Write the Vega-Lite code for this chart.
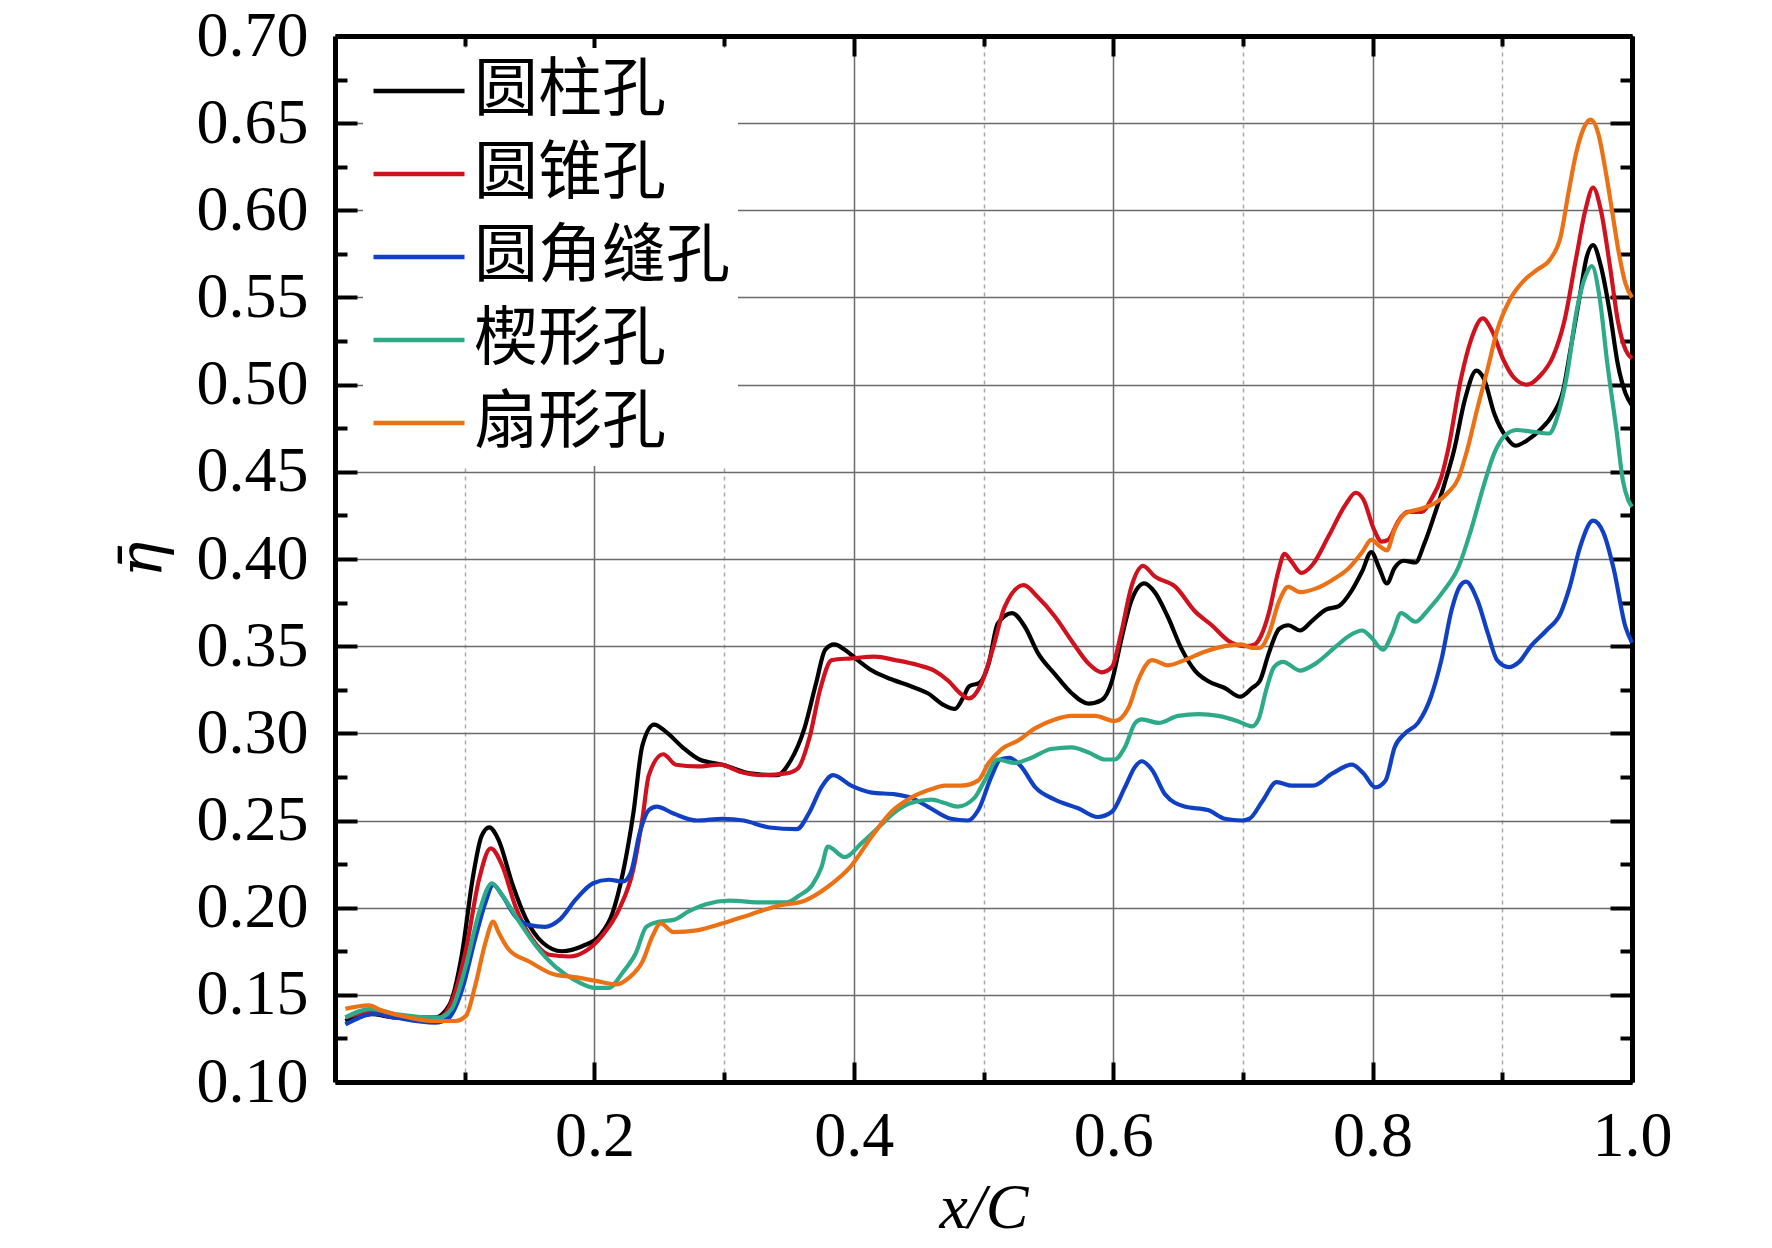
{
  "$schema": "https://vega.github.io/schema/vega-lite/v6.json",
  "width": 1297,
  "height": 1046,
  "autosize": {"type": "none"},
  "padding": {"left": 335, "top": 36, "right": 140, "bottom": 166},
  "background": "white",
  "config": {"view": {"stroke": null}, "font": "Liberation Serif"},
  "datasets": {
    "curves": [
      {"hole": "圆柱孔", "x": 0.008, "eta": 0.135}, {"hole": "圆柱孔", "x": 0.028, "eta": 0.139}, {"hole": "圆柱孔", "x": 0.046, "eta": 0.137}, {"hole": "圆柱孔", "x": 0.077, "eta": 0.137},
      {"hole": "圆柱孔", "x": 0.088, "eta": 0.144}, {"hole": "圆柱孔", "x": 0.098, "eta": 0.174}, {"hole": "圆柱孔", "x": 0.106, "eta": 0.216}, {"hole": "圆柱孔", "x": 0.113, "eta": 0.241},
      {"hole": "圆柱孔", "x": 0.119, "eta": 0.246}, {"hole": "圆柱孔", "x": 0.126, "eta": 0.239}, {"hole": "圆柱孔", "x": 0.137, "eta": 0.213}, {"hole": "圆柱孔", "x": 0.147, "eta": 0.194},
      {"hole": "圆柱孔", "x": 0.160, "eta": 0.180}, {"hole": "圆柱孔", "x": 0.175, "eta": 0.175}, {"hole": "圆柱孔", "x": 0.191, "eta": 0.178}, {"hole": "圆柱孔", "x": 0.204, "eta": 0.184},
      {"hole": "圆柱孔", "x": 0.214, "eta": 0.197}, {"hole": "圆柱孔", "x": 0.222, "eta": 0.220}, {"hole": "圆柱孔", "x": 0.230, "eta": 0.254}, {"hole": "圆柱孔", "x": 0.237, "eta": 0.293},
      {"hole": "圆柱孔", "x": 0.246, "eta": 0.305}, {"hole": "圆柱孔", "x": 0.255, "eta": 0.301}, {"hole": "圆柱孔", "x": 0.268, "eta": 0.292}, {"hole": "圆柱孔", "x": 0.281, "eta": 0.285},
      {"hole": "圆柱孔", "x": 0.299, "eta": 0.282}, {"hole": "圆柱孔", "x": 0.320, "eta": 0.277}, {"hole": "圆柱孔", "x": 0.341, "eta": 0.276}, {"hole": "圆柱孔", "x": 0.351, "eta": 0.284},
      {"hole": "圆柱孔", "x": 0.362, "eta": 0.303}, {"hole": "圆柱孔", "x": 0.371, "eta": 0.329}, {"hole": "圆柱孔", "x": 0.378, "eta": 0.348}, {"hole": "圆柱孔", "x": 0.385, "eta": 0.351},
      {"hole": "圆柱孔", "x": 0.393, "eta": 0.348}, {"hole": "圆柱孔", "x": 0.403, "eta": 0.342}, {"hole": "圆柱孔", "x": 0.414, "eta": 0.336}, {"hole": "圆柱孔", "x": 0.429, "eta": 0.331},
      {"hole": "圆柱孔", "x": 0.444, "eta": 0.327}, {"hole": "圆柱孔", "x": 0.457, "eta": 0.323}, {"hole": "圆柱孔", "x": 0.470, "eta": 0.316}, {"hole": "圆柱孔", "x": 0.478, "eta": 0.314},
      {"hole": "圆柱孔", "x": 0.484, "eta": 0.320}, {"hole": "圆柱孔", "x": 0.489, "eta": 0.327}, {"hole": "圆柱孔", "x": 0.497, "eta": 0.329}, {"hole": "圆柱孔", "x": 0.504, "eta": 0.340},
      {"hole": "圆柱孔", "x": 0.511, "eta": 0.363}, {"hole": "圆柱孔", "x": 0.522, "eta": 0.369}, {"hole": "圆柱孔", "x": 0.532, "eta": 0.361}, {"hole": "圆柱孔", "x": 0.542, "eta": 0.346},
      {"hole": "圆柱孔", "x": 0.555, "eta": 0.334}, {"hole": "圆柱孔", "x": 0.568, "eta": 0.323}, {"hole": "圆柱孔", "x": 0.581, "eta": 0.317}, {"hole": "圆柱孔", "x": 0.591, "eta": 0.319},
      {"hole": "圆柱孔", "x": 0.599, "eta": 0.330}, {"hole": "圆柱孔", "x": 0.606, "eta": 0.353}, {"hole": "圆柱孔", "x": 0.614, "eta": 0.376}, {"hole": "圆柱孔", "x": 0.624, "eta": 0.386},
      {"hole": "圆柱孔", "x": 0.632, "eta": 0.381}, {"hole": "圆柱孔", "x": 0.642, "eta": 0.367}, {"hole": "圆柱孔", "x": 0.653, "eta": 0.348}, {"hole": "圆柱孔", "x": 0.663, "eta": 0.336},
      {"hole": "圆柱孔", "x": 0.673, "eta": 0.330}, {"hole": "圆柱孔", "x": 0.686, "eta": 0.326}, {"hole": "圆柱孔", "x": 0.698, "eta": 0.321}, {"hole": "圆柱孔", "x": 0.707, "eta": 0.326},
      {"hole": "圆柱孔", "x": 0.713, "eta": 0.330}, {"hole": "圆柱孔", "x": 0.720, "eta": 0.346}, {"hole": "圆柱孔", "x": 0.728, "eta": 0.360}, {"hole": "圆柱孔", "x": 0.735, "eta": 0.362},
      {"hole": "圆柱孔", "x": 0.744, "eta": 0.359}, {"hole": "圆柱孔", "x": 0.754, "eta": 0.365}, {"hole": "圆柱孔", "x": 0.764, "eta": 0.371}, {"hole": "圆柱孔", "x": 0.774, "eta": 0.373},
      {"hole": "圆柱孔", "x": 0.784, "eta": 0.382}, {"hole": "圆柱孔", "x": 0.792, "eta": 0.393}, {"hole": "圆柱孔", "x": 0.799, "eta": 0.404}, {"hole": "圆柱孔", "x": 0.805, "eta": 0.395},
      {"hole": "圆柱孔", "x": 0.811, "eta": 0.386}, {"hole": "圆柱孔", "x": 0.817, "eta": 0.395}, {"hole": "圆柱孔", "x": 0.824, "eta": 0.399}, {"hole": "圆柱孔", "x": 0.833, "eta": 0.398},
      {"hole": "圆柱孔", "x": 0.840, "eta": 0.409}, {"hole": "圆柱孔", "x": 0.848, "eta": 0.426}, {"hole": "圆柱孔", "x": 0.855, "eta": 0.442}, {"hole": "圆柱孔", "x": 0.863, "eta": 0.463},
      {"hole": "圆柱孔", "x": 0.871, "eta": 0.491}, {"hole": "圆柱孔", "x": 0.880, "eta": 0.508}, {"hole": "圆柱孔", "x": 0.886, "eta": 0.503}, {"hole": "圆柱孔", "x": 0.894, "eta": 0.483},
      {"hole": "圆柱孔", "x": 0.903, "eta": 0.470}, {"hole": "圆柱孔", "x": 0.910, "eta": 0.465}, {"hole": "圆柱孔", "x": 0.919, "eta": 0.468}, {"hole": "圆柱孔", "x": 0.929, "eta": 0.474},
      {"hole": "圆柱孔", "x": 0.939, "eta": 0.483}, {"hole": "圆柱孔", "x": 0.947, "eta": 0.497}, {"hole": "圆柱孔", "x": 0.953, "eta": 0.522}, {"hole": "圆柱孔", "x": 0.960, "eta": 0.552},
      {"hole": "圆柱孔", "x": 0.965, "eta": 0.573}, {"hole": "圆柱孔", "x": 0.970, "eta": 0.580}, {"hole": "圆柱孔", "x": 0.976, "eta": 0.568}, {"hole": "圆柱孔", "x": 0.983, "eta": 0.541},
      {"hole": "圆柱孔", "x": 0.989, "eta": 0.512}, {"hole": "圆柱孔", "x": 0.995, "eta": 0.495}, {"hole": "圆柱孔", "x": 1.0, "eta": 0.488},

      {"hole": "圆锥孔", "x": 0.008, "eta": 0.137}, {"hole": "圆锥孔", "x": 0.028, "eta": 0.140}, {"hole": "圆锥孔", "x": 0.046, "eta": 0.137}, {"hole": "圆锥孔", "x": 0.080, "eta": 0.137},
      {"hole": "圆锥孔", "x": 0.090, "eta": 0.146}, {"hole": "圆锥孔", "x": 0.101, "eta": 0.176}, {"hole": "圆锥孔", "x": 0.111, "eta": 0.216}, {"hole": "圆锥孔", "x": 0.120, "eta": 0.234},
      {"hole": "圆锥孔", "x": 0.129, "eta": 0.224}, {"hole": "圆锥孔", "x": 0.139, "eta": 0.201}, {"hole": "圆锥孔", "x": 0.152, "eta": 0.182}, {"hole": "圆锥孔", "x": 0.165, "eta": 0.173},
      {"hole": "圆锥孔", "x": 0.181, "eta": 0.172}, {"hole": "圆锥孔", "x": 0.193, "eta": 0.175}, {"hole": "圆锥孔", "x": 0.206, "eta": 0.184}, {"hole": "圆锥孔", "x": 0.219, "eta": 0.199},
      {"hole": "圆锥孔", "x": 0.230, "eta": 0.222}, {"hole": "圆锥孔", "x": 0.237, "eta": 0.251}, {"hole": "圆锥孔", "x": 0.242, "eta": 0.276}, {"hole": "圆锥孔", "x": 0.253, "eta": 0.288},
      {"hole": "圆锥孔", "x": 0.263, "eta": 0.282}, {"hole": "圆锥孔", "x": 0.279, "eta": 0.281}, {"hole": "圆锥孔", "x": 0.297, "eta": 0.282}, {"hole": "圆锥孔", "x": 0.312, "eta": 0.278},
      {"hole": "圆锥孔", "x": 0.330, "eta": 0.276}, {"hole": "圆锥孔", "x": 0.348, "eta": 0.277}, {"hole": "圆锥孔", "x": 0.357, "eta": 0.280}, {"hole": "圆锥孔", "x": 0.366, "eta": 0.298},
      {"hole": "圆锥孔", "x": 0.374, "eta": 0.325}, {"hole": "圆锥孔", "x": 0.383, "eta": 0.342}, {"hole": "圆锥孔", "x": 0.398, "eta": 0.343}, {"hole": "圆锥孔", "x": 0.416, "eta": 0.344},
      {"hole": "圆锥孔", "x": 0.432, "eta": 0.342}, {"hole": "圆锥孔", "x": 0.450, "eta": 0.339}, {"hole": "圆锥孔", "x": 0.462, "eta": 0.336}, {"hole": "圆锥孔", "x": 0.473, "eta": 0.330},
      {"hole": "圆锥孔", "x": 0.482, "eta": 0.323}, {"hole": "圆锥孔", "x": 0.489, "eta": 0.320}, {"hole": "圆锥孔", "x": 0.498, "eta": 0.328}, {"hole": "圆锥孔", "x": 0.507, "eta": 0.348},
      {"hole": "圆锥孔", "x": 0.516, "eta": 0.372}, {"hole": "圆锥孔", "x": 0.531, "eta": 0.385}, {"hole": "圆锥孔", "x": 0.542, "eta": 0.378}, {"hole": "圆锥孔", "x": 0.555, "eta": 0.367},
      {"hole": "圆锥孔", "x": 0.568, "eta": 0.353}, {"hole": "圆锥孔", "x": 0.581, "eta": 0.340}, {"hole": "圆锥孔", "x": 0.591, "eta": 0.335}, {"hole": "圆锥孔", "x": 0.599, "eta": 0.338},
      {"hole": "圆锥孔", "x": 0.606, "eta": 0.357}, {"hole": "圆锥孔", "x": 0.614, "eta": 0.384}, {"hole": "圆锥孔", "x": 0.623, "eta": 0.396}, {"hole": "圆锥孔", "x": 0.632, "eta": 0.390},
      {"hole": "圆锥孔", "x": 0.648, "eta": 0.384}, {"hole": "圆锥孔", "x": 0.663, "eta": 0.370}, {"hole": "圆锥孔", "x": 0.676, "eta": 0.362}, {"hole": "圆锥孔", "x": 0.689, "eta": 0.353},
      {"hole": "圆锥孔", "x": 0.702, "eta": 0.350}, {"hole": "圆锥孔", "x": 0.709, "eta": 0.351}, {"hole": "圆锥孔", "x": 0.714, "eta": 0.356}, {"hole": "圆锥孔", "x": 0.720, "eta": 0.369},
      {"hole": "圆锥孔", "x": 0.727, "eta": 0.392}, {"hole": "圆锥孔", "x": 0.732, "eta": 0.403}, {"hole": "圆锥孔", "x": 0.737, "eta": 0.399}, {"hole": "圆锥孔", "x": 0.745, "eta": 0.392},
      {"hole": "圆锥孔", "x": 0.754, "eta": 0.397}, {"hole": "圆锥孔", "x": 0.766, "eta": 0.413}, {"hole": "圆锥孔", "x": 0.779, "eta": 0.431}, {"hole": "圆锥孔", "x": 0.787, "eta": 0.438},
      {"hole": "圆锥孔", "x": 0.793, "eta": 0.434}, {"hole": "圆锥孔", "x": 0.801, "eta": 0.417}, {"hole": "圆锥孔", "x": 0.807, "eta": 0.410}, {"hole": "圆锥孔", "x": 0.812, "eta": 0.411},
      {"hole": "圆锥孔", "x": 0.820, "eta": 0.422}, {"hole": "圆锥孔", "x": 0.827, "eta": 0.427}, {"hole": "圆锥孔", "x": 0.838, "eta": 0.427}, {"hole": "圆锥孔", "x": 0.845, "eta": 0.434},
      {"hole": "圆锥孔", "x": 0.853, "eta": 0.447}, {"hole": "圆锥孔", "x": 0.858, "eta": 0.462}, {"hole": "圆锥孔", "x": 0.868, "eta": 0.503}, {"hole": "圆锥孔", "x": 0.876, "eta": 0.526},
      {"hole": "圆锥孔", "x": 0.885, "eta": 0.538}, {"hole": "圆锥孔", "x": 0.892, "eta": 0.531}, {"hole": "圆锥孔", "x": 0.901, "eta": 0.514}, {"hole": "圆锥孔", "x": 0.909, "eta": 0.504},
      {"hole": "圆锥孔", "x": 0.919, "eta": 0.500}, {"hole": "圆锥孔", "x": 0.929, "eta": 0.505}, {"hole": "圆锥孔", "x": 0.939, "eta": 0.516}, {"hole": "圆锥孔", "x": 0.948, "eta": 0.537},
      {"hole": "圆锥孔", "x": 0.957, "eta": 0.573}, {"hole": "圆锥孔", "x": 0.964, "eta": 0.600}, {"hole": "圆锥孔", "x": 0.970, "eta": 0.613}, {"hole": "圆锥孔", "x": 0.976, "eta": 0.600},
      {"hole": "圆锥孔", "x": 0.983, "eta": 0.568}, {"hole": "圆锥孔", "x": 0.989, "eta": 0.537}, {"hole": "圆锥孔", "x": 0.995, "eta": 0.520}, {"hole": "圆锥孔", "x": 1.0, "eta": 0.515},

      {"hole": "圆角缝孔", "x": 0.008, "eta": 0.133}, {"hole": "圆角缝孔", "x": 0.031, "eta": 0.139}, {"hole": "圆角缝孔", "x": 0.046, "eta": 0.137}, {"hole": "圆角缝孔", "x": 0.077, "eta": 0.134},
      {"hole": "圆角缝孔", "x": 0.088, "eta": 0.137}, {"hole": "圆角缝孔", "x": 0.098, "eta": 0.153}, {"hole": "圆角缝孔", "x": 0.108, "eta": 0.182}, {"hole": "圆角缝孔", "x": 0.116, "eta": 0.203},
      {"hole": "圆角缝孔", "x": 0.122, "eta": 0.213}, {"hole": "圆角缝孔", "x": 0.129, "eta": 0.207}, {"hole": "圆角缝孔", "x": 0.139, "eta": 0.195}, {"hole": "圆角缝孔", "x": 0.150, "eta": 0.190},
      {"hole": "圆角缝孔", "x": 0.162, "eta": 0.189}, {"hole": "圆角缝孔", "x": 0.173, "eta": 0.193}, {"hole": "圆角缝孔", "x": 0.186, "eta": 0.205}, {"hole": "圆角缝孔", "x": 0.199, "eta": 0.214},
      {"hole": "圆角缝孔", "x": 0.211, "eta": 0.216}, {"hole": "圆角缝孔", "x": 0.222, "eta": 0.215}, {"hole": "圆角缝孔", "x": 0.228, "eta": 0.220}, {"hole": "圆角缝孔", "x": 0.235, "eta": 0.243},
      {"hole": "圆角缝孔", "x": 0.242, "eta": 0.256}, {"hole": "圆角缝孔", "x": 0.248, "eta": 0.258}, {"hole": "圆角缝孔", "x": 0.261, "eta": 0.254}, {"hole": "圆角缝孔", "x": 0.279, "eta": 0.250},
      {"hole": "圆角缝孔", "x": 0.299, "eta": 0.251}, {"hole": "圆角缝孔", "x": 0.315, "eta": 0.250}, {"hole": "圆角缝孔", "x": 0.335, "eta": 0.246}, {"hole": "圆角缝孔", "x": 0.356, "eta": 0.245},
      {"hole": "圆角缝孔", "x": 0.366, "eta": 0.255}, {"hole": "圆角缝孔", "x": 0.375, "eta": 0.269}, {"hole": "圆角缝孔", "x": 0.384, "eta": 0.276}, {"hole": "圆角缝孔", "x": 0.398, "eta": 0.270},
      {"hole": "圆角缝孔", "x": 0.414, "eta": 0.266}, {"hole": "圆角缝孔", "x": 0.432, "eta": 0.265}, {"hole": "圆角缝孔", "x": 0.444, "eta": 0.263}, {"hole": "圆角缝孔", "x": 0.457, "eta": 0.258},
      {"hole": "圆角缝孔", "x": 0.475, "eta": 0.251}, {"hole": "圆角缝孔", "x": 0.488, "eta": 0.250}, {"hole": "圆角缝孔", "x": 0.496, "eta": 0.256}, {"hole": "圆角缝孔", "x": 0.506, "eta": 0.275},
      {"hole": "圆角缝孔", "x": 0.513, "eta": 0.285}, {"hole": "圆角缝孔", "x": 0.520, "eta": 0.286}, {"hole": "圆角缝孔", "x": 0.529, "eta": 0.281}, {"hole": "圆角缝孔", "x": 0.540, "eta": 0.269},
      {"hole": "圆角缝孔", "x": 0.555, "eta": 0.262}, {"hole": "圆角缝孔", "x": 0.573, "eta": 0.257}, {"hole": "圆角缝孔", "x": 0.588, "eta": 0.252}, {"hole": "圆角缝孔", "x": 0.599, "eta": 0.255},
      {"hole": "圆角缝孔", "x": 0.609, "eta": 0.269}, {"hole": "圆角缝孔", "x": 0.617, "eta": 0.281}, {"hole": "圆角缝孔", "x": 0.622, "eta": 0.284}, {"hole": "圆角缝孔", "x": 0.630, "eta": 0.279},
      {"hole": "圆角缝孔", "x": 0.640, "eta": 0.265}, {"hole": "圆角缝孔", "x": 0.655, "eta": 0.258}, {"hole": "圆角缝孔", "x": 0.673, "eta": 0.256}, {"hole": "圆角缝孔", "x": 0.686, "eta": 0.251},
      {"hole": "圆角缝孔", "x": 0.699, "eta": 0.250}, {"hole": "圆角缝孔", "x": 0.705, "eta": 0.251}, {"hole": "圆角缝孔", "x": 0.715, "eta": 0.261}, {"hole": "圆角缝孔", "x": 0.726, "eta": 0.272},
      {"hole": "圆角缝孔", "x": 0.738, "eta": 0.270}, {"hole": "圆角缝孔", "x": 0.754, "eta": 0.270}, {"hole": "圆角缝孔", "x": 0.769, "eta": 0.277}, {"hole": "圆角缝孔", "x": 0.784, "eta": 0.282},
      {"hole": "圆角缝孔", "x": 0.793, "eta": 0.277}, {"hole": "圆角缝孔", "x": 0.802, "eta": 0.269}, {"hole": "圆角缝孔", "x": 0.810, "eta": 0.273}, {"hole": "圆角缝孔", "x": 0.817, "eta": 0.292},
      {"hole": "圆角缝孔", "x": 0.825, "eta": 0.300}, {"hole": "圆角缝孔", "x": 0.835, "eta": 0.306}, {"hole": "圆角缝孔", "x": 0.845, "eta": 0.321}, {"hole": "圆角缝孔", "x": 0.853, "eta": 0.342},
      {"hole": "圆角缝孔", "x": 0.861, "eta": 0.371}, {"hole": "圆角缝孔", "x": 0.867, "eta": 0.384}, {"hole": "圆角缝孔", "x": 0.872, "eta": 0.387}, {"hole": "圆角缝孔", "x": 0.881, "eta": 0.376},
      {"hole": "圆角缝孔", "x": 0.889, "eta": 0.357}, {"hole": "圆角缝孔", "x": 0.896, "eta": 0.342}, {"hole": "圆角缝孔", "x": 0.905, "eta": 0.338}, {"hole": "圆角缝孔", "x": 0.913, "eta": 0.341},
      {"hole": "圆角缝孔", "x": 0.922, "eta": 0.350}, {"hole": "圆角缝孔", "x": 0.934, "eta": 0.359}, {"hole": "圆角缝孔", "x": 0.945, "eta": 0.369}, {"hole": "圆角缝孔", "x": 0.952, "eta": 0.384},
      {"hole": "圆角缝孔", "x": 0.960, "eta": 0.407}, {"hole": "圆角缝孔", "x": 0.970, "eta": 0.422}, {"hole": "圆角缝孔", "x": 0.978, "eta": 0.415}, {"hole": "圆角缝孔", "x": 0.986, "eta": 0.394},
      {"hole": "圆角缝孔", "x": 0.995, "eta": 0.361}, {"hole": "圆角缝孔", "x": 1.0, "eta": 0.352},

      {"hole": "楔形孔", "x": 0.008, "eta": 0.137}, {"hole": "楔形孔", "x": 0.028, "eta": 0.142}, {"hole": "楔形孔", "x": 0.046, "eta": 0.139}, {"hole": "楔形孔", "x": 0.080, "eta": 0.137},
      {"hole": "楔形孔", "x": 0.090, "eta": 0.142}, {"hole": "楔形孔", "x": 0.101, "eta": 0.167}, {"hole": "楔形孔", "x": 0.111, "eta": 0.197}, {"hole": "楔形孔", "x": 0.121, "eta": 0.214},
      {"hole": "楔形孔", "x": 0.129, "eta": 0.207}, {"hole": "楔形孔", "x": 0.142, "eta": 0.192}, {"hole": "楔形孔", "x": 0.155, "eta": 0.178}, {"hole": "楔形孔", "x": 0.170, "eta": 0.166},
      {"hole": "楔形孔", "x": 0.186, "eta": 0.158}, {"hole": "楔形孔", "x": 0.201, "eta": 0.154}, {"hole": "楔形孔", "x": 0.211, "eta": 0.154}, {"hole": "楔形孔", "x": 0.222, "eta": 0.163},
      {"hole": "楔形孔", "x": 0.232, "eta": 0.174}, {"hole": "楔形孔", "x": 0.240, "eta": 0.189}, {"hole": "楔形孔", "x": 0.250, "eta": 0.192}, {"hole": "楔形孔", "x": 0.261, "eta": 0.193},
      {"hole": "楔形孔", "x": 0.273, "eta": 0.198}, {"hole": "楔形孔", "x": 0.286, "eta": 0.202}, {"hole": "楔形孔", "x": 0.304, "eta": 0.204}, {"hole": "楔形孔", "x": 0.330, "eta": 0.203},
      {"hole": "楔形孔", "x": 0.348, "eta": 0.203}, {"hole": "楔形孔", "x": 0.358, "eta": 0.207}, {"hole": "楔形孔", "x": 0.368, "eta": 0.213}, {"hole": "楔形孔", "x": 0.375, "eta": 0.223},
      {"hole": "楔形孔", "x": 0.380, "eta": 0.235}, {"hole": "楔形孔", "x": 0.393, "eta": 0.229}, {"hole": "楔形孔", "x": 0.406, "eta": 0.237}, {"hole": "楔形孔", "x": 0.419, "eta": 0.246},
      {"hole": "楔形孔", "x": 0.432, "eta": 0.255}, {"hole": "楔形孔", "x": 0.444, "eta": 0.260}, {"hole": "楔形孔", "x": 0.460, "eta": 0.262}, {"hole": "楔形孔", "x": 0.470, "eta": 0.260},
      {"hole": "楔形孔", "x": 0.480, "eta": 0.258}, {"hole": "楔形孔", "x": 0.493, "eta": 0.263}, {"hole": "楔形孔", "x": 0.501, "eta": 0.273}, {"hole": "楔形孔", "x": 0.511, "eta": 0.285},
      {"hole": "楔形孔", "x": 0.524, "eta": 0.283}, {"hole": "楔形孔", "x": 0.537, "eta": 0.286}, {"hole": "楔形孔", "x": 0.552, "eta": 0.291}, {"hole": "楔形孔", "x": 0.568, "eta": 0.292},
      {"hole": "楔形孔", "x": 0.581, "eta": 0.289}, {"hole": "楔形孔", "x": 0.594, "eta": 0.285}, {"hole": "楔形孔", "x": 0.601, "eta": 0.285}, {"hole": "楔形孔", "x": 0.609, "eta": 0.292},
      {"hole": "楔形孔", "x": 0.617, "eta": 0.306}, {"hole": "楔形孔", "x": 0.622, "eta": 0.308}, {"hole": "楔形孔", "x": 0.635, "eta": 0.306}, {"hole": "楔形孔", "x": 0.650, "eta": 0.310},
      {"hole": "楔形孔", "x": 0.666, "eta": 0.311}, {"hole": "楔形孔", "x": 0.681, "eta": 0.310}, {"hole": "楔形孔", "x": 0.696, "eta": 0.307}, {"hole": "楔形孔", "x": 0.707, "eta": 0.304},
      {"hole": "楔形孔", "x": 0.712, "eta": 0.308}, {"hole": "楔形孔", "x": 0.718, "eta": 0.325}, {"hole": "楔形孔", "x": 0.724, "eta": 0.338}, {"hole": "楔形孔", "x": 0.731, "eta": 0.341},
      {"hole": "楔形孔", "x": 0.744, "eta": 0.336}, {"hole": "楔形孔", "x": 0.756, "eta": 0.340}, {"hole": "楔形孔", "x": 0.772, "eta": 0.350}, {"hole": "楔形孔", "x": 0.782, "eta": 0.356},
      {"hole": "楔形孔", "x": 0.792, "eta": 0.359}, {"hole": "楔形孔", "x": 0.799, "eta": 0.355}, {"hole": "楔形孔", "x": 0.808, "eta": 0.348}, {"hole": "楔形孔", "x": 0.815, "eta": 0.357},
      {"hole": "楔形孔", "x": 0.822, "eta": 0.369}, {"hole": "楔形孔", "x": 0.833, "eta": 0.364}, {"hole": "楔形孔", "x": 0.843, "eta": 0.371}, {"hole": "楔形孔", "x": 0.855, "eta": 0.382},
      {"hole": "楔形孔", "x": 0.866, "eta": 0.395}, {"hole": "楔形孔", "x": 0.876, "eta": 0.417}, {"hole": "楔形孔", "x": 0.886, "eta": 0.443}, {"hole": "楔形孔", "x": 0.894, "eta": 0.461},
      {"hole": "楔形孔", "x": 0.901, "eta": 0.470}, {"hole": "楔形孔", "x": 0.911, "eta": 0.474}, {"hole": "楔形孔", "x": 0.924, "eta": 0.473}, {"hole": "楔形孔", "x": 0.936, "eta": 0.472},
      {"hole": "楔形孔", "x": 0.943, "eta": 0.483}, {"hole": "楔形孔", "x": 0.950, "eta": 0.506}, {"hole": "楔形孔", "x": 0.957, "eta": 0.541}, {"hole": "楔形孔", "x": 0.964, "eta": 0.562},
      {"hole": "楔形孔", "x": 0.969, "eta": 0.568}, {"hole": "楔形孔", "x": 0.975, "eta": 0.550}, {"hole": "楔形孔", "x": 0.981, "eta": 0.512}, {"hole": "楔形孔", "x": 0.988, "eta": 0.474},
      {"hole": "楔形孔", "x": 0.993, "eta": 0.445}, {"hole": "楔形孔", "x": 0.997, "eta": 0.434}, {"hole": "楔形孔", "x": 1.0, "eta": 0.430},

      {"hole": "扇形孔", "x": 0.008, "eta": 0.142}, {"hole": "扇形孔", "x": 0.026, "eta": 0.144}, {"hole": "扇形孔", "x": 0.036, "eta": 0.141}, {"hole": "扇形孔", "x": 0.057, "eta": 0.137},
      {"hole": "扇形孔", "x": 0.077, "eta": 0.135}, {"hole": "扇形孔", "x": 0.093, "eta": 0.135}, {"hole": "扇形孔", "x": 0.101, "eta": 0.138}, {"hole": "扇形孔", "x": 0.108, "eta": 0.155},
      {"hole": "扇形孔", "x": 0.116, "eta": 0.180}, {"hole": "扇形孔", "x": 0.122, "eta": 0.192}, {"hole": "扇形孔", "x": 0.126, "eta": 0.186}, {"hole": "扇形孔", "x": 0.134, "eta": 0.176},
      {"hole": "扇形孔", "x": 0.150, "eta": 0.169}, {"hole": "扇形孔", "x": 0.168, "eta": 0.162}, {"hole": "扇形孔", "x": 0.186, "eta": 0.160}, {"hole": "扇形孔", "x": 0.201, "eta": 0.158},
      {"hole": "扇形孔", "x": 0.217, "eta": 0.156}, {"hole": "扇形孔", "x": 0.227, "eta": 0.160}, {"hole": "扇形孔", "x": 0.237, "eta": 0.169}, {"hole": "扇形孔", "x": 0.245, "eta": 0.184},
      {"hole": "扇形孔", "x": 0.251, "eta": 0.191}, {"hole": "扇形孔", "x": 0.261, "eta": 0.186}, {"hole": "扇形孔", "x": 0.279, "eta": 0.187}, {"hole": "扇形孔", "x": 0.299, "eta": 0.191},
      {"hole": "扇形孔", "x": 0.320, "eta": 0.196}, {"hole": "扇形孔", "x": 0.341, "eta": 0.201}, {"hole": "扇形孔", "x": 0.362, "eta": 0.204}, {"hole": "扇形孔", "x": 0.380, "eta": 0.212},
      {"hole": "扇形孔", "x": 0.398, "eta": 0.224}, {"hole": "扇形孔", "x": 0.414, "eta": 0.241}, {"hole": "扇形孔", "x": 0.429, "eta": 0.255}, {"hole": "扇形孔", "x": 0.444, "eta": 0.263},
      {"hole": "扇形孔", "x": 0.460, "eta": 0.268}, {"hole": "扇形孔", "x": 0.470, "eta": 0.270}, {"hole": "扇形孔", "x": 0.483, "eta": 0.270}, {"hole": "扇形孔", "x": 0.496, "eta": 0.273},
      {"hole": "扇形孔", "x": 0.504, "eta": 0.283}, {"hole": "扇形孔", "x": 0.514, "eta": 0.291}, {"hole": "扇形孔", "x": 0.527, "eta": 0.296}, {"hole": "扇形孔", "x": 0.540, "eta": 0.303},
      {"hole": "扇形孔", "x": 0.555, "eta": 0.308}, {"hole": "扇形孔", "x": 0.568, "eta": 0.310}, {"hole": "扇形孔", "x": 0.586, "eta": 0.310}, {"hole": "扇形孔", "x": 0.601, "eta": 0.307},
      {"hole": "扇形孔", "x": 0.612, "eta": 0.315}, {"hole": "扇形孔", "x": 0.619, "eta": 0.330}, {"hole": "扇形孔", "x": 0.630, "eta": 0.342}, {"hole": "扇形孔", "x": 0.642, "eta": 0.339},
      {"hole": "扇形孔", "x": 0.655, "eta": 0.342}, {"hole": "扇形孔", "x": 0.671, "eta": 0.347}, {"hole": "扇形孔", "x": 0.686, "eta": 0.350}, {"hole": "扇形孔", "x": 0.699, "eta": 0.351},
      {"hole": "扇形孔", "x": 0.707, "eta": 0.349}, {"hole": "扇形孔", "x": 0.713, "eta": 0.349}, {"hole": "扇形孔", "x": 0.720, "eta": 0.357}, {"hole": "扇形孔", "x": 0.728, "eta": 0.376},
      {"hole": "扇形孔", "x": 0.735, "eta": 0.384}, {"hole": "扇形孔", "x": 0.744, "eta": 0.381}, {"hole": "扇形孔", "x": 0.756, "eta": 0.383}, {"hole": "扇形孔", "x": 0.769, "eta": 0.388},
      {"hole": "扇形孔", "x": 0.782, "eta": 0.395}, {"hole": "扇形孔", "x": 0.792, "eta": 0.404}, {"hole": "扇形孔", "x": 0.799, "eta": 0.411}, {"hole": "扇形孔", "x": 0.806, "eta": 0.407},
      {"hole": "扇形孔", "x": 0.811, "eta": 0.405}, {"hole": "扇形孔", "x": 0.817, "eta": 0.417}, {"hole": "扇形孔", "x": 0.825, "eta": 0.426}, {"hole": "扇形孔", "x": 0.838, "eta": 0.429},
      {"hole": "扇形孔", "x": 0.848, "eta": 0.432}, {"hole": "扇形孔", "x": 0.858, "eta": 0.438}, {"hole": "扇形孔", "x": 0.866, "eta": 0.446}, {"hole": "扇形孔", "x": 0.872, "eta": 0.460},
      {"hole": "扇形孔", "x": 0.881, "eta": 0.487}, {"hole": "扇形孔", "x": 0.889, "eta": 0.510}, {"hole": "扇形孔", "x": 0.896, "eta": 0.531}, {"hole": "扇形孔", "x": 0.906, "eta": 0.549},
      {"hole": "扇形孔", "x": 0.917, "eta": 0.560}, {"hole": "扇形孔", "x": 0.927, "eta": 0.566}, {"hole": "扇形孔", "x": 0.937, "eta": 0.572}, {"hole": "扇形孔", "x": 0.945, "eta": 0.585},
      {"hole": "扇形孔", "x": 0.951, "eta": 0.610}, {"hole": "扇形孔", "x": 0.957, "eta": 0.633}, {"hole": "扇形孔", "x": 0.964, "eta": 0.649}, {"hole": "扇形孔", "x": 0.968, "eta": 0.652},
      {"hole": "扇形孔", "x": 0.974, "eta": 0.644}, {"hole": "扇形孔", "x": 0.980, "eta": 0.621}, {"hole": "扇形孔", "x": 0.985, "eta": 0.598}, {"hole": "扇形孔", "x": 0.990, "eta": 0.575},
      {"hole": "扇形孔", "x": 0.995, "eta": 0.558}, {"hole": "扇形孔", "x": 1.0, "eta": 0.550}
    ]
  },
  "data": {"name": "curves"},
  "layer": [
    {
      "mark": {"type": "line", "strokeWidth": 4.2, "interpolate": "monotone"},
      "encoding": {
        "x": {
          "field": "x",
          "type": "quantitative",
          "scale": {"domain": [0, 1], "nice": false, "zero": false},
          "axis": {
            "orient": "bottom",
            "values": [0.1, 0.2, 0.3, 0.4, 0.5, 0.6, 0.7, 0.8, 0.9, 1.0],
            "labelExpr": "abs(datum.value * 5 - round(datum.value * 5)) < 0.01 ? format(datum.value, '.1f') : ''",
            "labelFont": "Liberation Serif",
            "labelFontSize": 64,
            "labelColor": "black",
            "labelPadding": 42,
            "labelFlush": false,
            "labelOverlap": false,
            "labelBound": false,
            "tickSize": {"condition": {"test": "abs(datum.value * 5 - round(datum.value * 5)) < 0.01", "value": -20}, "value": -10},
            "tickWidth": 4,
            "tickColor": "black",
            "domainWidth": 5,
            "domainColor": "black",
            "grid": true,
            "gridColor": {"condition": {"test": "abs(datum.value * 5 - round(datum.value * 5)) < 0.01", "value": "#6b6b6b"}, "value": "#a8a8a8"},
            "gridDash": {"condition": {"test": "abs(datum.value * 5 - round(datum.value * 5)) < 0.01", "value": []}, "value": [4, 4]},
            "gridWidth": 1.5,
            "title": "x/C",
            "titleFont": "Liberation Serif",
            "titleFontStyle": "italic",
            "titleFontWeight": "normal",
            "titleFontSize": 64,
            "titleColor": "black",
            "titlePadding": -2
          }
        },
        "y": {
          "field": "eta",
          "type": "quantitative",
          "scale": {"domain": [0.1, 0.7], "nice": false, "zero": false},
          "axis": {
            "orient": "left",
            "values": [0.1, 0.125, 0.15, 0.175, 0.2, 0.225, 0.25, 0.275, 0.3, 0.325, 0.35, 0.375, 0.4, 0.425, 0.45, 0.475, 0.5, 0.525, 0.55, 0.575, 0.6, 0.625, 0.65, 0.675, 0.7],
            "labelExpr": "abs(datum.value * 20 - round(datum.value * 20)) < 0.01 ? format(datum.value, '.2f') : ''",
            "labelFont": "Liberation Serif",
            "labelFontSize": 64,
            "labelColor": "black",
            "labelPadding": 49,
            "labelOverlap": false,
            "labelBound": false,
            "labelFlush": false,
            "tickSize": {"condition": {"test": "abs(datum.value * 20 - round(datum.value * 20)) < 0.01", "value": -22}, "value": -12},
            "tickWidth": 4,
            "tickColor": "black",
            "domainWidth": 5,
            "domainColor": "black",
            "grid": true,
            "gridColor": "#6b6b6b",
            "gridWidth": 1.5,
            "gridOpacity": {"condition": {"test": "abs(datum.value * 20 - round(datum.value * 20)) < 0.01", "value": 1}, "value": 0},
            "title": "η̄",
            "titleFont": "DejaVu Serif",
            "titleFontStyle": "italic",
            "titleFontWeight": "normal",
            "titleFontSize": 60,
            "titleColor": "black",
            "titlePadding": 22
          }
        },
        "color": {
          "field": "hole",
          "type": "nominal",
          "scale": {
            "domain": ["圆柱孔", "圆锥孔", "圆角缝孔", "楔形孔", "扇形孔"],
            "range": ["#000000", "#d0121e", "#1040c4", "#2daa88", "#ec7014"]
          },
          "legend": {
            "orient": "none",
            "legendX": 28,
            "legendY": 12,
            "title": null,
            "symbolType": "stroke",
            "symbolSize": 8281,
            "symbolStrokeWidth": 4.5,
            "labelFont": "Noto Sans CJK SC",
            "labelFontSize": 64,
            "labelColor": "black",
            "labelOffset": 7,
            "labelLimit": 400,
            "clipHeight": 70,
            "rowPadding": 13,
            "padding": 8,
            "fillColor": "white"
          }
        }
      }
    },
    {
      "mark": {"type": "line", "opacity": 0},
      "encoding": {
        "x": {
          "field": "x",
          "type": "quantitative",
          "axis": {
            "orient": "top",
            "values": [0.1, 0.2, 0.3, 0.4, 0.5, 0.6, 0.7, 0.8, 0.9, 1.0],
            "labels": false,
            "grid": false,
            "tickSize": {"condition": {"test": "abs(datum.value * 5 - round(datum.value * 5)) < 0.01", "value": -20}, "value": -10},
            "tickWidth": 4,
            "tickColor": "black",
            "domainWidth": 5,
            "domainColor": "black",
            "title": null
          }
        },
        "y": {
          "field": "eta",
          "type": "quantitative",
          "axis": {
            "orient": "right",
            "values": [0.1, 0.125, 0.15, 0.175, 0.2, 0.225, 0.25, 0.275, 0.3, 0.325, 0.35, 0.375, 0.4, 0.425, 0.45, 0.475, 0.5, 0.525, 0.55, 0.575, 0.6, 0.625, 0.65, 0.675, 0.7],
            "labels": false,
            "grid": false,
            "tickSize": {"condition": {"test": "abs(datum.value * 20 - round(datum.value * 20)) < 0.01", "value": -22}, "value": -12},
            "tickWidth": 4,
            "tickColor": "black",
            "domainWidth": 5,
            "domainColor": "black",
            "title": null
          }
        },
        "detail": {"field": "hole"}
      }
    }
  ],
  "resolve": {"axis": {"x": "independent", "y": "independent"}}
}
